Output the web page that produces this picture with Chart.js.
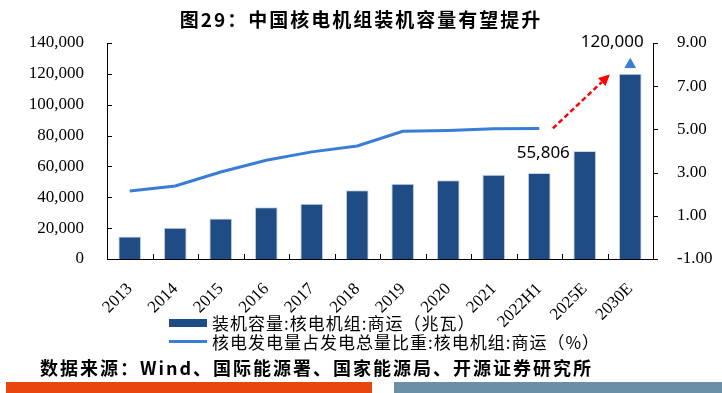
<!DOCTYPE html>
<html>
  <head>
    <meta charset="utf-8">
    <title>中国核电机组装机容量</title>
    <script src="https://cdn.jsdelivr.net/npm/chart.js@4.4.0/dist/chart.umd.min.js"></script>
    <style>
      body { margin: 0; background: #fff; }
      .lienzo { position: relative; width: 722px; height: 393px; overflow: hidden; }
      #grafico { position: absolute; left: 0; top: 0; }
      .titulo { position: absolute; left: 0; width: 722px; top: 5px; text-align: center;
        font: bold 19px "Noto Sans CJK SC"; letter-spacing: 2px; color: #000; }
      .leyenda { position: absolute; left: 169px; top: 313px; font: 17px "Noto Sans CJK SC"; letter-spacing: 1px; color: #000; }
      .fila { display: flex; align-items: center; height: 19px; }
      .caja { width: 38px; height: 8px; margin-right: 5px; }
      .linea { width: 38px; height: 3px; margin-right: 5px; }
      .fuente { position: absolute; left: 40px; top: 354px; font: bold 18px "Noto Sans CJK SC";
        letter-spacing: 2px; color: #000; }
      .franja1 { position: absolute; left: 6px; width: 366px; top: 382px; height: 11px; background: #e8450f; }
      .franja2 { position: absolute; left: 394px; width: 328px; top: 382px; height: 11px; background: #6b8fa7; }
    </style>
  </head>
  <body>
    <div class="lienzo">
      <canvas id="grafico" width="722" height="393"></canvas>
      <div class="titulo">图29：中国核电机组装机容量有望提升</div>
      <div id="leyenda" class="leyenda"></div>
      <div class="fuente">数据来源：Wind、国际能源署、国家能源局、开源证券研究所</div>
      <div class="franja1"></div>
      <div class="franja2"></div>
    </div>
    <script>
      // datos
      const years = ['2013', '2014', '2015', '2016', '2017', '2018', '2019', '2020', '2021', '2022H1', '2025E', '2030E']
      const capacity = [14600, 20200, 26300, 33600, 35800, 44600, 48700, 51000, 54600, 55806, 70000, 120000]
      const share = [2.15, 2.38, 3.03, 3.57, 3.96, 4.23, 4.91, 4.95, 5.03, 5.04, null, null]
      const marker = [null, null, null, null, null, null, null, null, null, null, null, 8.0]
      const leftTicks = [0, 20000, 40000, 60000, 80000, 100000, 120000, 140000]
      const rightTicks = [-1, 1, 3, 5, 7, 9]
      const capLabel = '装机容量:核电机组:商运（兆瓦）'
      const shareLabel = '核电发电量占发电总量比重:核电机组:商运（%）'

      const azul = '#204c85'
      const azulLinea = '#3a7dd6'
      const serif = 'Liberation Serif'

      // ticks hacia dentro, flecha roja y etiquetas
      const extras = {
        id: 'extras',
        afterDraw(chart) {
          const c = chart.ctx
          const a = chart.chartArea
          const x = chart.scales.x, y = chart.scales.y, y1 = chart.scales.y1
          c.save()
          c.strokeStyle = '#000'
          c.lineWidth = 1
          c.beginPath()
          leftTicks.forEach(v => {
            const p = Math.round(y.getPixelForValue(v)) + 0.5
            c.moveTo(a.left, p); c.lineTo(a.left + 5, p)
          })
          rightTicks.forEach(v => {
            const p = Math.round(y1.getPixelForValue(v)) + 0.5
            c.moveTo(a.right, p); c.lineTo(a.right + 5, p)
          })
          for (let i = 1; i < years.length; i++) {
            const p = Math.round(x.getPixelForValue(i - 0.5)) + 0.5
            c.moveTo(p, a.bottom); c.lineTo(p, a.bottom - 5)
          }
          c.stroke()

          // flecha
          const x0 = x.getPixelForValue(9.3), yy0 = y1.getPixelForValue(5.05)
          const x1 = x.getPixelForValue(10.55), yy1 = y.getPixelForValue(119600)
          const ang = Math.atan2(yy1 - yy0, x1 - x0)
          const hx = x1 - 11 * Math.cos(ang), hy = yy1 - 11 * Math.sin(ang)
          c.strokeStyle = '#ff0000'
          c.fillStyle = '#ff0000'
          c.lineWidth = 2.5
          c.setLineDash([5, 3])
          c.beginPath(); c.moveTo(x0, yy0); c.lineTo(hx, hy); c.stroke()
          c.setLineDash([])
          c.beginPath()
          c.moveTo(x1, yy1)
          c.lineTo(hx + 5.5 * Math.sin(ang), hy - 5.5 * Math.cos(ang))
          c.lineTo(hx - 5.5 * Math.sin(ang), hy + 5.5 * Math.cos(ang))
          c.closePath(); c.fill()

          // etiquetas
          c.fillStyle = '#000'
          c.font = '17px "Noto Sans"'
          c.textAlign = 'center'
          c.textBaseline = 'middle'
          c.fillText(capacity[9].toLocaleString('en-US'), x.getPixelForValue(9) + 4, y.getPixelForValue(capacity[9]) - 20)
          c.fillText(capacity[11].toLocaleString('en-US'), x.getPixelForValue(11) - 18, y.getPixelForValue(capacity[11]) - 32)
          c.restore()
        }
      }

      const chart = new Chart(document.getElementById('grafico'), {
        type: 'bar',
        data: {
          labels: years,
          datasets: [{
            label: capLabel,
            data: capacity,
            yAxisID: 'y',
            backgroundColor: azul,
            borderColor: '#c9d6e8',
            borderWidth: 1,
            categoryPercentage: 1,
            barPercentage: 0.5,
            order: 2
          }, {
            type: 'line',
            label: shareLabel,
            data: share,
            yAxisID: 'y1',
            borderColor: azulLinea,
            borderWidth: 3,
            pointRadius: 0,
            tension: 0,
            order: 1
          }, {
            type: 'line',
            label: 'marker',
            data: marker,
            yAxisID: 'y1',
            showLine: false,
            pointStyle: 'triangle',
            pointRadius: 6,
            backgroundColor: azulLinea,
            borderColor: azulLinea,
            order: 0
          }]
        },
        options: {
          responsive: false,
          animation: false,
          devicePixelRatio: 1,
          layout: { padding: { top: 43, left: 0, right: 0, bottom: 0 } },
          plugins: { legend: { display: false }, tooltip: { enabled: false } },
          scales: {
            x: {
              offset: true,
              grid: { display: false },
              border: { display: true, color: '#000', width: 1 },
              ticks: { color: '#000', font: { family: serif, size: 17 }, minRotation: 45, maxRotation: 45, padding: 12 },
              afterFit(s) { s.height = 134 }
            },
            y: {
              position: 'left',
              min: 0, max: 140000,
              afterBuildTicks(s) { s.ticks = leftTicks.map(v => ({ value: v })) },
              grid: { display: false },
              border: { display: true, color: '#000', width: 1 },
              ticks: { color: '#000', font: { family: serif, size: 17 }, padding: 15,
                callback: v => v.toLocaleString('en-US') },
              afterFit(s) { s.width = 107 }
            },
            y1: {
              position: 'right',
              min: -1, max: 9,
              afterBuildTicks(s) { s.ticks = rightTicks.map(v => ({ value: v })) },
              grid: { display: false },
              border: { display: true, color: '#000', width: 1 },
              ticks: { color: '#000', font: { family: serif, size: 17 }, padding: 16,
                callback: v => v.toFixed(2) },
              afterFit(s) { s.width = 69 }
            }
          }
        },
        plugins: [extras]
      })

      // leyenda
      const ley = document.getElementById('leyenda')
      chart.data.datasets.slice(0, 2).forEach((d, i) => {
        const fila = document.createElement('div')
        fila.className = 'fila'
        const m = document.createElement('div')
        m.className = i === 0 ? 'caja' : 'linea'
        m.style.background = i === 0 ? azul : azulLinea
        const t = document.createElement('span')
        t.textContent = d.label
        fila.appendChild(m)
        fila.appendChild(t)
        ley.appendChild(fila)
      })
    </script>
  </body>
</html>
